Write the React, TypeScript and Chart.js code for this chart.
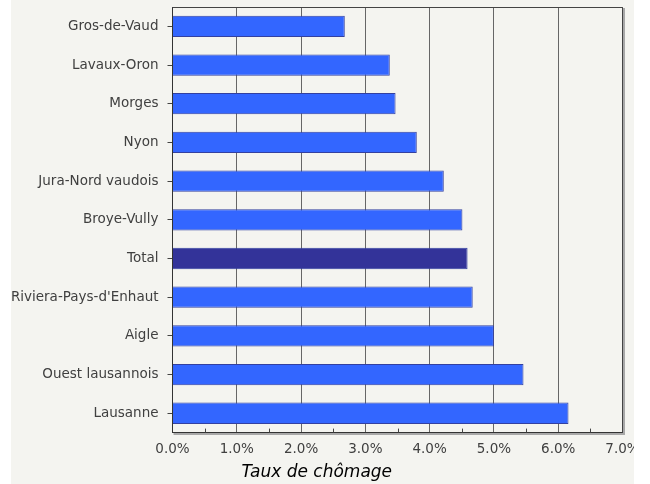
import React, { useEffect, useRef } from "react";
import { Chart, registerables } from "chart.js";

Chart.register(...registerables);

const categories = [
  "Gros-de-Vaud",
  "Lavaux-Oron",
  "Morges",
  "Nyon",
  "Jura-Nord vaudois",
  "Broye-Vully",
  "Total",
  "Riviera-Pays-d'Enhaut",
  "Aigle",
  "Ouest lausannois",
  "Lausanne",
];
const rates = [2.68, 3.38, 3.47, 3.8, 4.22, 4.51, 4.59, 4.67, 5.0, 5.46, 6.16];
const xTickValues = [0, 1, 2, 3, 4, 5, 6, 7];
const minorTickValues = [0.5, 1.5, 2.5, 3.5, 4.5, 5.5, 6.5];
const axisTitle = "Taux de chômage";

const FONT = "'DejaVu Sans', Verdana, sans-serif";

const framePlugin = {
  id: "frame",
  afterDatasetsDraw(chart: any) {
    const { ctx, chartArea } = chart;
    const x = chart.scales.x;
    ctx.save();
    ctx.strokeStyle = "#a8a8a8";
    ctx.lineWidth = 2;
    ctx.beginPath();
    ctx.moveTo(chartArea.right + 1.5, chartArea.top + 1);
    ctx.lineTo(chartArea.right + 1.5, chartArea.bottom + 1.5);
    ctx.lineTo(chartArea.left + 1, chartArea.bottom + 1.5);
    ctx.stroke();
    ctx.strokeStyle = "#444";
    ctx.lineWidth = 1;
    ctx.beginPath();
    ctx.moveTo(chartArea.left, chartArea.top + 0.5);
    ctx.lineTo(chartArea.right, chartArea.top + 0.5);
    ctx.lineTo(chartArea.right, chartArea.bottom);
    ctx.stroke();
    ctx.beginPath();
    for (const v of minorTickValues) {
      const px = Math.round(x.getPixelForValue(v)) + 0.5;
      ctx.moveTo(px, chartArea.bottom);
      ctx.lineTo(px, chartArea.bottom - 4);
    }
    ctx.stroke();
    ctx.restore();
  },
};

export default function App() {
  const ref = useRef<HTMLCanvasElement>(null);
  useEffect(() => {
    if (!ref.current) return;
    const chart = new Chart(ref.current, {
      type: "bar",
      data: {
        labels: categories,
        datasets: [
          {
            data: rates,
            backgroundColor: categories.map((c) => (c === "Total" ? "#333399" : "#3366ff")),
            borderColor: "#3340a0",
            borderWidth: 1,
            categoryPercentage: 1,
            barPercentage: 0.55,
          },
        ],
      },
      options: {
        indexAxis: "y",
        animation: false,
        responsive: true,
        maintainAspectRatio: false,
        layout: { padding: { left: 0, right: 11.5, top: 7, bottom: 0 } },
        plugins: {
          legend: { display: false },
          tooltip: { enabled: false },
          title: {
            display: true,
            position: "bottom",
            text: axisTitle,
            color: "#000",
            font: { family: FONT, size: 17, style: "italic", weight: "normal" },
            padding: { top: 4, bottom: 1 },
          },
        },
        scales: {
          x: {
            type: "linear",
            min: 0,
            max: 7,
            afterBuildTicks: (scale: any) => {
              scale.ticks = xTickValues.map((v) => ({ value: v }));
            },
            afterFit: (scale: any) => {
              scale.height = 26;
              scale.paddingLeft = 0;
              scale.paddingRight = 0;
            },
            ticks: {
              color: "#404040",
              font: { family: FONT, size: 13.5 },
              padding: 9,
              maxRotation: 0,
              autoSkip: false,
              callback: (v: any) => Number(v).toFixed(1) + "%",
            },
            grid: {
              color: "#666",
              lineWidth: 1,
              drawTicks: false,
            },
            border: { color: "#333", width: 1 },
          },
          y: {
            type: "category",
            afterFit: (scale: any) => {
              scale.width = 161.5;
              scale.paddingTop = 0;
              scale.paddingBottom = 0;
            },
            ticks: {
              color: "#404040",
              font: { family: FONT, size: 13.5 },
              padding: 9,
              autoSkip: false,
            },
            grid: {
              drawOnChartArea: false,
              drawTicks: true,
              tickLength: 5,
              tickColor: "#444",
              offset: false,
            },
            border: { color: "#333", width: 1 },
          },
        },
      },
      plugins: [framePlugin],
    } as any);
    return () => chart.destroy();
  }, []);
  return (
    <div
      style={{
        position: "absolute",
        left: 11,
        top: 0,
        width: 623,
        height: 484,
        background: "#f4f4f0",
      }}
    >
      <canvas ref={ref} />
    </div>
  );
}
